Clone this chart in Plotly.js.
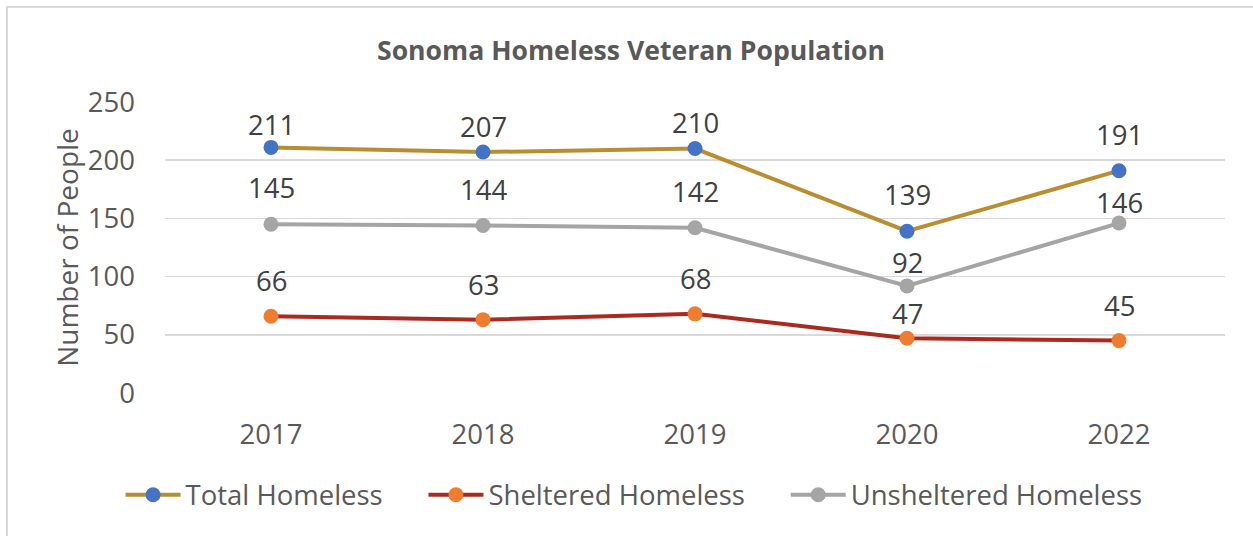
<!DOCTYPE html>
<html>
<head>
<meta charset="utf-8">
<script src="https://cdn.plot.ly/plotly-3.0.1.min.js"></script>
<style>
html,body{margin:0;padding:0;background:#fff;}
#chart{width:1253px;height:536px;}
</style>
</head>
<body>
<div id="chart"></div>
<script>
const years = ["2017", "2018", "2019", "2020", "2022"];
const totalHomeless = [211, 207, 210, 139, 191];
const shelteredHomeless = [66, 63, 68, 47, 45];
const unshelteredHomeless = [145, 144, 142, 92, 146];
const seriesNames = ["Total Homeless", "Sheltered Homeless", "Unsheltered Homeless"];
const yTicks = [0, 50, 100, 150, 200, 250];

// label placement (pixels above each point), style only
const totalLift = [23, 26, 26, 37, 36];
const shelteredLift = [36, 35, 35, 25, 35];
const unshelteredLift = [37, 36, 36, 23, 21];

const FONT = "'Open Sans', 'Noto Sans', sans-serif";
const labelFont = {family: FONT, size: 27.5, color: "#404040"};
const PAD = "\u00a0\u00a0\u00a0\u00a0\u00a0";

function series(legendLabel, values, lineColor, markerColor) {
  return {
    type: "scatter",
    mode: "lines+markers",
    name: legendLabel,
    x: years,
    y: values,
    line: {color: lineColor, width: 4},
    marker: {color: markerColor, size: 15},
    cliponaxis: false,
    hoverinfo: "x+y"
  };
}

// annotations on a category axis: x is the category index of years[i]
function labels(values, lifts) {
  return values.map((v, i) => ({
    x: years.indexOf(years[i]), y: v, xref: "x", yref: "y",
    text: String(v), showarrow: false,
    yshift: lifts[i], font: labelFont
  }));
}

const data = [
  series(seriesNames[0] + PAD, totalHomeless, "#B98E31", "#4472C4"),
  series(seriesNames[1] + PAD, shelteredHomeless, "#AB2A20", "#ED7D31"),
  series(seriesNames[2], unshelteredHomeless, "#A5A5A5", "#A5A5A5")
];

const layout = {
  width: 1253,
  height: 536,
  margin: {l: 165, r: 28, t: 102, b: 143},
  paper_bgcolor: "#ffffff",
  plot_bgcolor: "#ffffff",
  font: {family: FONT, color: "#595959", size: 27.5},
  showlegend: true,
  title: {
    text: "<b>Sonoma Homeless Veteran Population</b>",
    font: {family: FONT, size: 26.6, color: "#595959"},
    x: 631 / 1253, xanchor: "center", xref: "container",
    y: 47, yref: "container", yanchor: "middle"
  },
  xaxis: {
    type: "category",
    range: [-0.5, 4.5],
    showgrid: false,
    showline: false,
    zeroline: false,
    ticks: "",
    ticklabelstandoff: 22,
    tickfont: {family: FONT, size: 27.5, color: "#595959"},
    fixedrange: true
  },
  yaxis: {
    range: [0, 250],
    tickvals: yTicks,
    ticktext: yTicks.map(String),
    showgrid: true,
    gridcolor: "#D9D9D9",
    gridwidth: 1.5,
    zeroline: false,
    showline: false,
    ticks: "",
    ticklabelstandoff: 29,
    tickfont: {family: FONT, size: 27.5, color: "#595959"},
    title: {text: "Number of People", font: {family: FONT, size: 28, color: "#595959"}, standoff: 1},
    fixedrange: true
  },
  legend: {
    orientation: "h",
    x: 0.4425, xanchor: "center",
    y: -0.35, yanchor: "middle",
    font: {family: FONT, size: 27.5, color: "#595959"},
    itemwidth: 55,
    bgcolor: "rgba(0,0,0,0)"
  },
  annotations: [].concat(
    labels(totalHomeless, totalLift),
    labels(shelteredHomeless, shelteredLift),
    labels(unshelteredHomeless, unshelteredLift)
  ),
  shapes: [{
    type: "rect", xref: "paper", yref: "paper",
    x0: -158/1060, x1: 1.2, y0: -0.8, y1: 1 + 95/291,
    line: {color: "#D9D9D9", width: 2}, fillcolor: "rgba(0,0,0,0)", layer: "below"
  }]
};

Plotly.newPlot("chart", data, layout, {displayModeBar: false, staticPlot: true});
</script>
</body>
</html>
